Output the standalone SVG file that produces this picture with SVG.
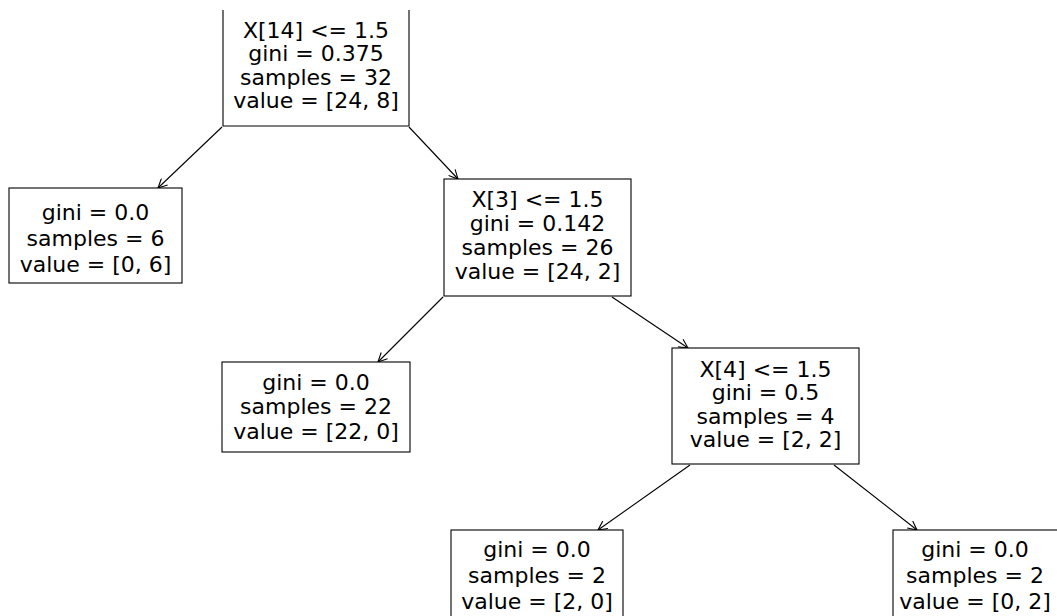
<svg xmlns="http://www.w3.org/2000/svg" width="1057" height="616" viewBox="0 0 1057 616">
<style>
.box{fill:#fff;stroke:#000;stroke-width:1.1}
.t{font-family:"DejaVu Sans",sans-serif;font-size:22px;text-anchor:middle;fill:#000}
.edge{stroke:#000;stroke-width:1.1;fill:none;marker-end:url(#ah)}
</style>
<defs>
<marker id="ah" markerWidth="12" markerHeight="10" refX="10" refY="5" orient="auto" markerUnits="userSpaceOnUse">
<path d="M1,0.5 L10,5 L1,9.5" fill="none" stroke="#000" stroke-width="1.1"/>
</marker>
</defs>
<rect width="1057" height="616" fill="#fff"/>
<g id="edges">
<line class="edge" x1="222" y1="127" x2="158" y2="188"/>
<line class="edge" x1="409" y1="127" x2="458" y2="179"/>
<line class="edge" x1="443" y1="297" x2="378" y2="362"/>
<line class="edge" x1="612" y1="297" x2="688" y2="348"/>
<line class="edge" x1="690" y1="465" x2="598" y2="530"/>
<line class="edge" x1="834" y1="465" x2="917" y2="530"/>
</g>
<g id="n0">
<path class="box" d="M223,10 V126 H409 V10"/>
<text class="t" x="316" y="38">X[14] &lt;= 1.5</text>
<text class="t" x="316" y="61">gini = 0.375</text>
<text class="t" x="316" y="85">samples = 32</text>
<text class="t" x="316" y="108">value = [24, 8]</text>
</g>
<g id="n1">
<rect class="box" x="9" y="188" width="173" height="95"/>
<text class="t" x="95.5" y="220">gini = 0.0</text>
<text class="t" x="95.5" y="246">samples = 6</text>
<text class="t" x="95.5" y="272">value = [0, 6]</text>
</g>
<g id="n2">
<rect class="box" x="444" y="179" width="187" height="117"/>
<text class="t" x="537.5" y="207">X[3] &lt;= 1.5</text>
<text class="t" x="537.5" y="231">gini = 0.142</text>
<text class="t" x="537.5" y="255">samples = 26</text>
<text class="t" x="537.5" y="279">value = [24, 2]</text>
</g>
<g id="n3">
<rect class="box" x="222" y="362" width="188" height="90"/>
<text class="t" x="316" y="390">gini = 0.0</text>
<text class="t" x="316" y="414">samples = 22</text>
<text class="t" x="316" y="439">value = [22, 0]</text>
</g>
<g id="n4">
<rect class="box" x="672" y="348" width="187" height="116"/>
<text class="t" x="765.5" y="377">X[4] &lt;= 1.5</text>
<text class="t" x="765.5" y="400">gini = 0.5</text>
<text class="t" x="765.5" y="424">samples = 4</text>
<text class="t" x="765.5" y="447">value = [2, 2]</text>
</g>
<g id="n5">
<rect class="box" x="451" y="530" width="172" height="100"/>
<text class="t" x="537" y="557">gini = 0.0</text>
<text class="t" x="537" y="583">samples = 2</text>
<text class="t" x="537" y="609">value = [2, 0]</text>
</g>
<g id="n6">
<rect class="box" x="893" y="530" width="180" height="100"/>
<text class="t" x="975" y="557">gini = 0.0</text>
<text class="t" x="975" y="583">samples = 2</text>
<text class="t" x="975" y="609">value = [0, 2]</text>
</g>
</svg>
